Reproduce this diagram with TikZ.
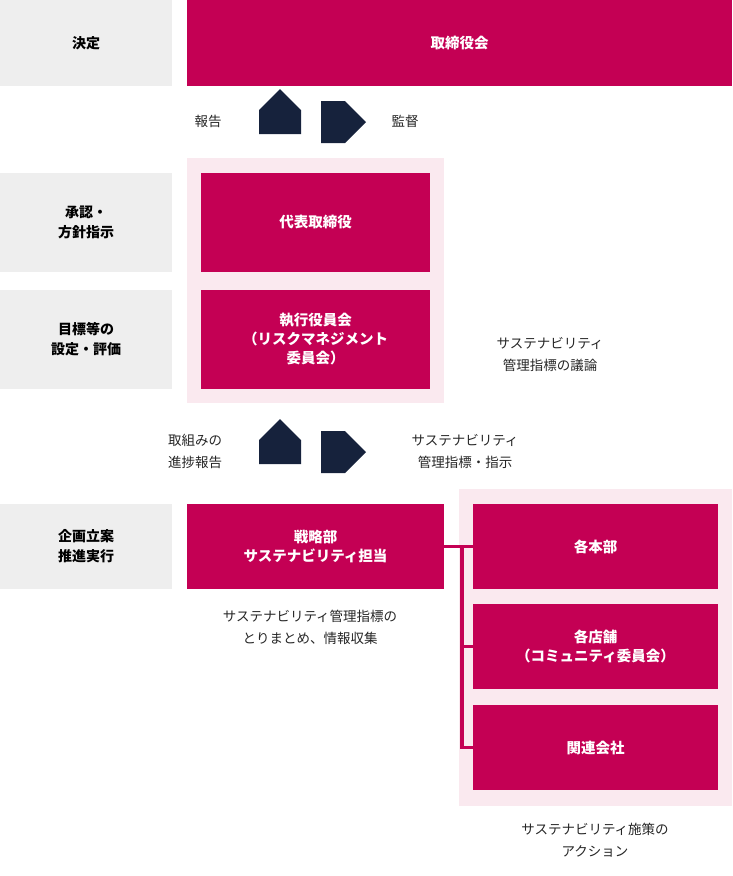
\documentclass[tikz,border=0pt]{standalone}
\usepackage{fontspec}
\setmainfont{Noto Sans CJK JP}
\usetikzlibrary{positioning, calc, shapes.arrows}
\definecolor{berry}{RGB}{196, 0, 84}
\definecolor{lightgray}{RGB}{238, 238, 238}
\definecolor{blush}{RGB}{250, 233, 239}
\definecolor{navy}{RGB}{22, 34, 60}
\tikzset{
  rolebox/.style={fill=lightgray, minimum width=172pt, minimum height=#1, inner sep=0pt, align=center, font=\bfseries\fontsize{14}{20}\selectfont, text=black},
  orgbox/.style={fill=berry, minimum width=#1, inner sep=0pt, align=center, font=\bfseries\fontsize{14.5}{19}\selectfont, text=white},
  bgpanel/.style={fill=blush, draw=none},
  note/.style={align=center, font=\fontsize{13.5}{22}\selectfont, text=black!85},
  flowarr/.style={single arrow, fill=navy, minimum height=45pt, minimum width=42pt, single arrow head extend=0pt, single arrow tip angle=90, inner sep=0pt, shape border rotate=#1},
  link/.style={draw=berry, line width=3.5pt},
}
\begin{document}
\begin{tikzpicture}[x=1pt, y=-1pt]
\useasboundingbox (0,0) rectangle (732,876);
% backgrounds
\fill[bgpanel] (187,158) rectangle (444,403);
\fill[bgpanel] (459,489) rectangle (732,806);
% left column
\node[rolebox=86pt] (kettei) at (86,43) {決定};
\node[rolebox=99pt] (shonin) at (86,222.5) {承認・\\方針指示};
\node[rolebox=99pt] (mokuhyo) at (86,339.5) {目標等の\\設定・評価};
\node[rolebox=85pt] (kikaku) at (86,546.5) {企画立案\\推進実行};
% organisation boxes
\node[orgbox=545pt, minimum height=86pt] (board) at (459.5,43) {取締役会};
\node[orgbox=229pt, minimum height=99pt] (ceo) at (315.5,222.5) {代表取締役};
\node[orgbox=229pt, minimum height=99pt] (exec) at (315.5,339.5) {執行役員会\\（リスクマネジメント\\委員会）};
\node[orgbox=257pt, minimum height=85pt] (senryaku) at (315.5,546.5) {戦略部\\サステナビリティ担当};
\node[orgbox=245pt, minimum height=85pt] (honbu) at (595.5,546.5) {各本部};
\node[orgbox=245pt, minimum height=85pt] (tenpo) at (595.5,646.5) {各店舗\\（コミュニティ委員会）};
\node[orgbox=245pt, minimum height=85pt] (kanren) at (595.5,747.5) {関連会社};
% arrows
\node[flowarr=90] (up1) at (280,122) {};
\node[flowarr=-90] (dn1) at (333,122) {};
\node[flowarr=90] (up2) at (280,452) {};
\node[flowarr=-90] (dn2) at (333,452) {};
% notes
\node[note] (hokoku) at (208,121) {報告};
\node[note] (kantoku) at (405,121) {監督};
\node[note] (giron) at (550,355) {サステナビリティ\\管理指標の議論};
\node[note] (shinchoku) at (195,451) {取組みの\\進捗報告};
\node[note] (shiji) at (465,451) {サステナビリティ\\管理指標・指示};
\node[note] (matome) at (310,627) {サステナビリティ管理指標の\\とりまとめ、情報収集};
\node[note] (action) at (595,840) {サステナビリティ施策の\\アクション};
% connectors
\coordinate (bus) at ($(senryaku.east)+(18,0)$);
\draw[link] (senryaku.east) -- (bus) -- (honbu.west);
\draw[link] (bus) |- (kanren.west);
\draw[link] (tenpo.west) -| (bus);
\end{tikzpicture}
\end{document}
